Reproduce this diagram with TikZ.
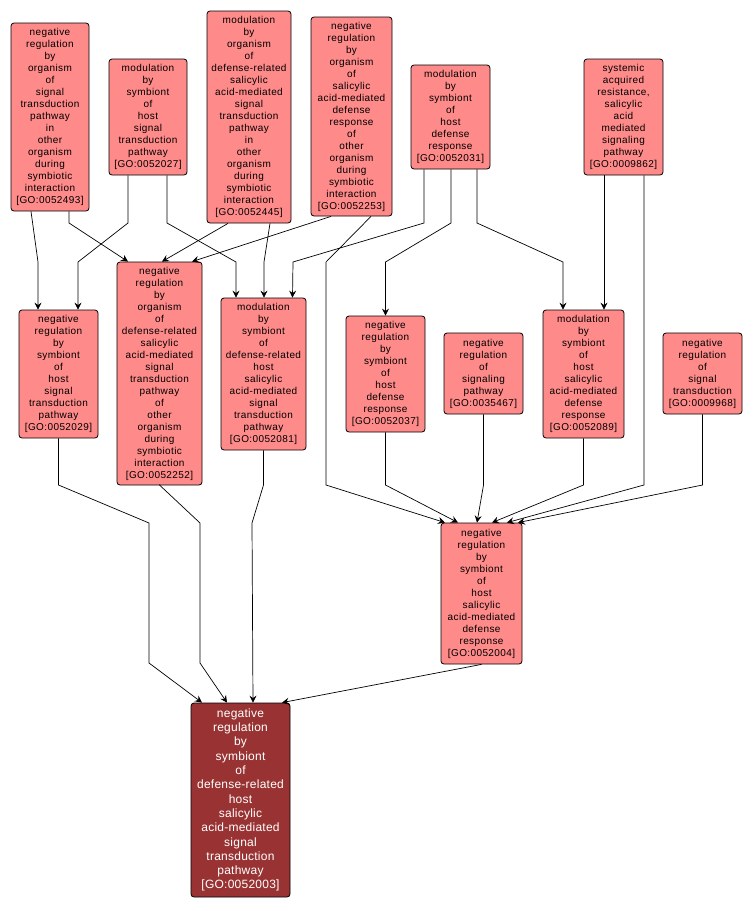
\documentclass[tikz,border=0pt]{standalone}
\usepackage{fontspec}
\setmainfont{Liberation Sans}
\newfontfamily\termfont[LetterSpace=4]{Liberation Sans}
\newfontfamily\mainfontls[LetterSpace=2]{Liberation Sans}
\usetikzlibrary{arrows.meta}
\definecolor{lightnode}{RGB}{255,138,138}
\definecolor{darknode}{RGB}{153,51,51}
\begin{document}
\begin{tikzpicture}[x=1pt,y=-1pt,
  term/.style={draw=black, line width=0.8pt, rounded corners=3pt, fill=lightnode, inner sep=0pt, align=center, font=\termfont\fontsize{10}{12}\selectfont},
  mainterm/.style={term, fill=darknode, text=white, font=\mainfontls\fontsize{12}{14.3}\selectfont},
  edge/.style={draw, line width=0.7pt, -{Stealth[length=7pt,width=7pt,inset=2.5pt]}}]
\useasboundingbox (0,0) rectangle (753,911);
% top row
\node[term, minimum width=78pt, minimum height=188pt] (A) at (50,117) {negative\\regulation\\by\\organism\\of\\signal\\transduction\\pathway\\in\\other\\organism\\during\\symbiotic\\interaction\\{[GO:0052493]}};
\node[term, minimum width=78pt, minimum height=116pt] (B) at (148,117) {modulation\\by\\symbiont\\of\\host\\signal\\transduction\\pathway\\{[GO:0052027]}};
\node[term, minimum width=84pt, minimum height=212pt] (C) at (249,117) {modulation\\by\\organism\\of\\defense-related\\salicylic\\acid-mediated\\signal\\transduction\\pathway\\in\\other\\organism\\during\\symbiotic\\interaction\\{[GO:0052445]}};
\node[term, minimum width=81pt, minimum height=199pt] (D) at (351.5,116.5) {negative\\regulation\\by\\organism\\of\\salicylic\\acid-mediated\\defense\\response\\of\\other\\organism\\during\\symbiotic\\interaction\\{[GO:0052253]}};
\node[term, minimum width=79pt, minimum height=104pt] (E) at (450.5,117) {modulation\\by\\symbiont\\of\\host\\defense\\response\\{[GO:0052031]}};
\node[term, minimum width=79pt, minimum height=116pt] (F) at (623.5,117) {systemic\\acquired\\resistance,\\salicylic\\acid\\mediated\\signaling\\pathway\\{[GO:0009862]}};
% middle row
\node[term, minimum width=79pt, minimum height=128pt] (G) at (58.5,374) {negative\\regulation\\by\\symbiont\\of\\host\\signal\\transduction\\pathway\\{[GO:0052029]}};
\node[term, minimum width=85pt, minimum height=223pt] (H) at (159.5,373.5) {negative\\regulation\\by\\organism\\of\\defense-related\\salicylic\\acid-mediated\\signal\\transduction\\pathway\\of\\other\\organism\\during\\symbiotic\\interaction\\{[GO:0052252]}};
\node[term, minimum width=85pt, minimum height=152pt] (I) at (263.5,374) {modulation\\by\\symbiont\\of\\defense-related\\host\\salicylic\\acid-mediated\\signal\\transduction\\pathway\\{[GO:0052081]}};
\node[term, minimum width=79pt, minimum height=116pt] (J) at (385.5,374) {negative\\regulation\\by\\symbiont\\of\\host\\defense\\response\\{[GO:0052037]}};
\node[term, minimum width=79pt, minimum height=81pt] (K) at (483.5,373.5) {negative\\regulation\\of\\signaling\\pathway\\{[GO:0035467]}};
\node[term, minimum width=81pt, minimum height=128pt] (L) at (583.5,374) {modulation\\by\\symbiont\\of\\host\\salicylic\\acid-mediated\\defense\\response\\{[GO:0052089]}};
\node[term, minimum width=79pt, minimum height=81pt] (M) at (702.5,373.5) {negative\\regulation\\of\\signal\\transduction\\{[GO:0009968]}};
% lower
\node[term, minimum width=81pt, minimum height=141pt] (N) at (481.5,593.5) {negative\\regulation\\by\\symbiont\\of\\host\\salicylic\\acid-mediated\\defense\\response\\{[GO:0052004]}};
\node[mainterm, minimum width=99pt, minimum height=194pt] (O) at (240.5,800) {negative\\regulation\\by\\symbiont\\of\\defense-related\\host\\salicylic\\acid-mediated\\signal\\transduction\\pathway\\{[GO:0052003]}};
% edges top -> middle
\draw[edge] ([xshift=-19pt]A.south) -- (38,262) -- ([xshift=-20.5pt]G.north);
\draw[edge] ([xshift=19pt]A.south) -- (69,223) -- ([xshift=-31.5pt]H.north);
\draw[edge] ([xshift=-20pt]B.south) -- (128,223) -- (78,262) -- ([xshift=19.5pt]G.north);
\draw[edge] ([xshift=19pt]B.south) -- (167,223) -- (236,262) -- ([xshift=-27.5pt]I.north);
\draw[edge] ([xshift=-21pt]C.south) -- ([xshift=2.5pt]H.north);
\draw[edge] ([xshift=21pt]C.south) -- (264,262) -- ([xshift=0.5pt]I.north);
\draw[edge] ([xshift=-20.5pt]D.south) -- ([xshift=32.5pt]H.north);
\draw[edge] ([xshift=19.5pt]D.south) -- (326,262) -- (326,485) -- ([xshift=-36.5pt]N.north);
\draw[edge] ([xshift=-26.5pt]E.south) -- (424,223) -- (293,262) -- ([xshift=29pt]I.north);
\draw[edge] ([xshift=0.5pt]E.south) -- (451,223) -- (385.5,262) -- (J.north);
\draw[edge] ([xshift=26.5pt]E.south) -- (477,223) -- (563,262) -- ([xshift=-20.5pt]L.north);
\draw[edge] ([xshift=-19.5pt]F.south) -- ([xshift=20.5pt]L.north);
\draw[edge] ([xshift=20.5pt]F.south) -- (644,485) -- ([xshift=25.5pt]N.north);
% middle -> N
\draw[edge] (J.south) -- (385.5,485) -- ([xshift=-23.5pt]N.north);
\draw[edge] (K.south) -- (483.5,485) -- ([xshift=-4.5pt]N.north);
\draw[edge] (L.south) -- (583.5,485) -- ([xshift=10.5pt]N.north);
\draw[edge] (M.south) -- (702.5,485) -- ([xshift=36.5pt]N.north);
% -> O
\draw[edge] (G.south) -- (58.5,485) -- (149,523) -- (149,663) -- ([xshift=-38.5pt]O.north);
\draw[edge] (H.south) -- (159.5,485) -- (200,523) -- (200,663) -- ([xshift=-13.5pt]O.north);
\draw[edge] (I.south) -- (263.5,485) -- (252,523) -- ([xshift=12.5pt]O.north);
\draw[edge] (N.south) -- ([xshift=41.5pt]O.north);
\end{tikzpicture}
\end{document}
